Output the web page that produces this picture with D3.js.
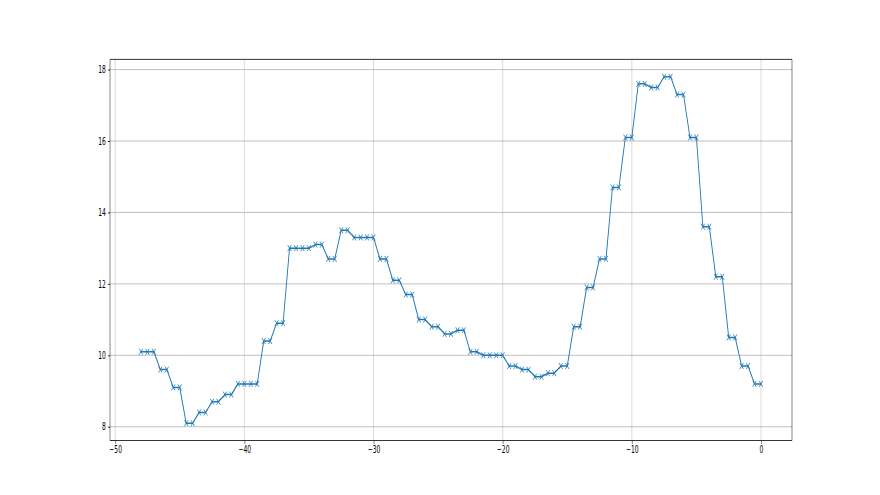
<!DOCTYPE html>
<html><head><meta charset="utf-8">
<script src="https://cdn.jsdelivr.net/npm/d3@7"></script>
<style>body{margin:0;background:#fff}svg{display:block}text{font-family:"DejaVu Sans",sans-serif}</style>
</head><body><div id="chart"></div>
<script>
const xValues = [-48,-47.5,-47,-46.5,-46,-45.5,-45,-44.5,-44,-43.5,-43,-42.5,-42,-41.5,-41,-40.5,-40,-39.5,-39,-38.5,-38,-37.5,-37,-36.5,-36,-35.5,-35,-34.5,-34,-33.5,-33,-32.5,-32,-31.5,-31,-30.5,-30,-29.5,-29,-28.5,-28,-27.5,-27,-26.5,-26,-25.5,-25,-24.5,-24,-23.5,-23,-22.5,-22,-21.5,-21,-20.5,-20,-19.5,-19,-18.5,-18,-17.5,-17,-16.5,-16,-15.5,-15,-14.5,-14,-13.5,-13,-12.5,-12,-11.5,-11,-10.5,-10,-9.5,-9,-8.5,-8,-7.5,-7,-6.5,-6,-5.5,-5,-4.5,-4,-3.5,-3,-2.5,-2,-1.5,-1,-0.5,0];
const yValues = [10.1,10.1,10.1,9.6,9.6,9.1,9.1,8.1,8.1,8.4,8.4,8.7,8.7,8.9,8.9,9.2,9.2,9.2,9.2,10.4,10.4,10.9,10.9,13.0,13.0,13.0,13.0,13.1,13.1,12.7,12.7,13.5,13.5,13.3,13.3,13.3,13.3,12.7,12.7,12.1,12.1,11.7,11.7,11.0,11.0,10.8,10.8,10.6,10.6,10.7,10.7,10.1,10.1,10.0,10.0,10.0,10.0,9.7,9.7,9.6,9.6,9.4,9.4,9.5,9.5,9.7,9.7,10.8,10.8,11.9,11.9,12.7,12.7,14.7,14.7,16.1,16.1,17.6,17.6,17.5,17.5,17.8,17.8,17.3,17.3,16.1,16.1,13.6,13.6,12.2,12.2,10.5,10.5,9.7,9.7,9.2,9.2];
const xTicks = [-50,-40,-30,-20,-10,0];
const yTicks = [8,10,12,14,16,18];

(function(){
const W = 880, H = 495;
const mLeft = 110, mRight = 792, mTop = 59.4, mBottom = 440.5;
const sx = 0.6; // horizontal squash of the original figure
const data = xValues.map((x,i)=>({x, y:yValues[i]}));

const xMin = d3.min(xValues), xMax = d3.max(xValues);
const yMin = d3.min(yValues), yMax = d3.max(yValues);
const xPad = (xMax-xMin)*0.05, yPad = (yMax-yMin)*0.05;
const x = d3.scaleLinear().domain([xMin-xPad, xMax+xPad]).range([mLeft, mRight]);
const xs = d3.scaleLinear().domain(x.domain()).range([mLeft/sx, mRight/sx]);
const y = d3.scaleLinear().domain([yMin-yPad, yMax+yPad]).range([mBottom, mTop]);

const svg = d3.select("#chart").append("svg").attr("width", W).attr("height", H);
const fmt = d => (d<0 ? "\u2212" + Math.abs(d) : String(d));

// grid
svg.append("g").selectAll("line").data(xTicks).join("line")
  .attr("x1", d=>x(d)).attr("x2", d=>x(d)).attr("y1", mTop).attr("y2", mBottom)
  .attr("stroke", "#b0b0b0").attr("stroke-width", 0.8*sx);
svg.append("g").selectAll("line").data(yTicks).join("line")
  .attr("x1", mLeft).attr("x2", mRight).attr("y1", d=>y(d)).attr("y2", d=>y(d))
  .attr("stroke", "#b0b0b0").attr("stroke-width", 0.8);

// axes
const xAxis = d3.axisBottom(x).tickValues(xTicks).tickFormat(fmt).tickSizeInner(3.5).tickSizeOuter(0).tickPadding(2.2);
const yAxis = d3.axisLeft(y).tickValues(yTicks).tickFormat(fmt).tickSizeInner(3.5*sx).tickSizeOuter(0).tickPadding(3.5*sx);
const gx = svg.append("g").attr("transform", `translate(0,${mBottom})`).call(xAxis);
const gy = svg.append("g").attr("transform", `translate(${mLeft},0)`).call(yAxis);
[gx, gy].forEach(g => {
  g.select(".domain").remove();
  g.selectAll(".tick text").attr("fill", "#000").style("font-size", "10px").style("font-family", "'DejaVu Sans',sans-serif");
});
gx.selectAll(".tick line").attr("stroke", "#000").attr("stroke-width", 0.8*sx);
gy.selectAll(".tick line").attr("stroke", "#000").attr("stroke-width", 0.8);
gx.selectAll(".tick text").attr("transform", `scale(${sx},1)`);
gy.selectAll(".tick text").attr("x", -(3.5*sx + 3.5*sx)/sx).attr("transform", `scale(${sx},1)`);

// plot layer, squashed horizontally like the original
const plot = svg.append("g").attr("transform", `scale(${sx},1)`);
plot.append("path").datum(data)
  .attr("fill", "none").attr("stroke", "#1f77b4").attr("stroke-width", 1.5)
  .attr("stroke-linejoin", "round").attr("stroke-linecap", "square")
  .attr("d", d3.line().x(d=>xs(d.x)).y(d=>y(d.y)));

const m = 3;
plot.append("g").selectAll("path").data(data).join("path")
  .attr("transform", d=>`translate(${xs(d.x)},${y(d.y)})`)
  .attr("d", `M${-m},${-m}L${m},${m}M${-m},${m}L${m},${-m}`)
  .attr("stroke", "#1f77b4").attr("stroke-width", 1).attr("fill", "none");

// spines
svg.append("line").attr("x1", mLeft).attr("x2", mRight).attr("y1", mTop).attr("y2", mTop).attr("stroke", "#000").attr("stroke-width", 0.8);
svg.append("line").attr("x1", mLeft).attr("x2", mRight).attr("y1", mBottom).attr("y2", mBottom).attr("stroke", "#000").attr("stroke-width", 0.8);
svg.append("line").attr("x1", mLeft).attr("x2", mLeft).attr("y1", mTop).attr("y2", mBottom).attr("stroke", "#000").attr("stroke-width", 0.8*sx);
svg.append("line").attr("x1", mRight).attr("x2", mRight).attr("y1", mTop).attr("y2", mBottom).attr("stroke", "#000").attr("stroke-width", 0.8*sx);
})();
</script>
</body></html>
